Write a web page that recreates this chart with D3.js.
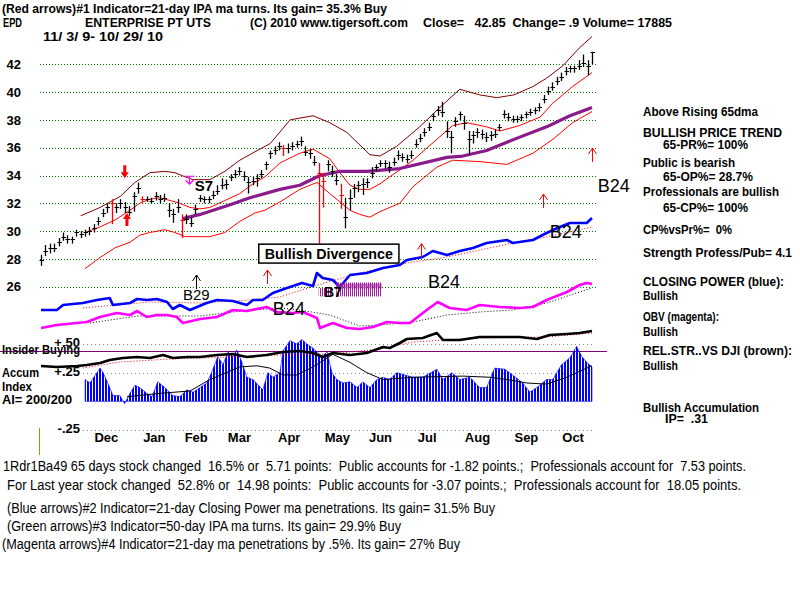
<!DOCTYPE html>
<html><head><meta charset="utf-8">
<script src="https://cdn.jsdelivr.net/npm/d3@7"></script>
<style>body{margin:0;background:#fff}svg{display:block}text{white-space:pre}</style>
</head><body>
<svg id="c" width="800" height="600"></svg>
<script>
// ---------------- DATA ----------------
const months = ["Dec","Jan","Feb","Mar","Apr","May","Jun","Jul","Aug","Sep","Oct"];
const monthIdx = [14.7,25.6,35.1,44.9,56.2,67.1,76.9,87.5,98.9,110,120.6];
const priceTicks = [26,28,30,32,34,36,38,40,42];
const aiTicks = [-0.25,0.25,0.5];
const aiTickLabels = ["-.25","+.25","+.50"];

const close = [27.9,28.6,28.8,28.8,29.2,29.6,29.4,29.4,29.9,29.8,
 29.9,30.0,30.2,30.7,31.3,31.7,32.0,31.7,32.0,31.7,
 31.4,32.5,33.1,32.3,32.3,32.2,32.5,32.3,32.4,31.5,
 31.2,31.7,30.8,30.9,30.6,31.6,32.4,32.3,32.3,32.6,
 32.9,33.3,33.4,33.9,34.1,34.3,34.0,33.5,33.6,33.8,
 34.1,34.8,35.6,35.8,36.1,36.0,36.0,36.1,36.3,36.5,
 35.7,35.6,35.0,34.2,33.6,34.8,34.3,33.7,32.6,31.0,
 32.4,33.1,33.3,33.4,33.5,34.2,34.6,34.9,34.9,34.6,
 35.0,35.5,35.3,35.2,35.5,36.3,36.7,37.1,37.5,38.3,
 38.7,38.6,37.2,36.8,37.9,38.4,37.8,36.6,36.9,37.1,
 37.0,36.8,36.9,37.0,37.5,38.4,38.2,38.1,38.1,38.2,
 38.4,38.6,38.7,38.9,39.5,40.1,40.4,40.8,41.1,41.5,
 41.7,41.7,41.9,42.1,41.9,42.85];
const high = [28.3,29.0,29.1,29.1,29.5,29.9,29.7,29.6,30.1,30.0,
 30.1,30.3,30.5,31.0,31.6,32.0,32.3,32.0,32.3,32.1,
 31.8,32.8,33.5,32.5,32.5,32.4,32.8,32.6,32.7,32.0,
 31.6,32.3,31.2,31.2,31.0,31.9,32.6,32.5,32.5,32.9,
 33.3,33.8,33.7,34.1,34.4,34.6,34.3,33.9,33.9,34.1,
 34.4,35.0,35.8,36.1,36.4,36.2,36.3,36.4,36.5,36.8,
 36.1,35.9,35.4,34.9,34.2,35.1,34.7,34.1,33.4,32.4,
 33.0,33.4,33.6,33.8,33.8,34.6,34.8,35.1,35.1,35.0,
 35.3,35.8,35.6,35.5,35.8,36.6,37.0,37.4,37.8,38.5,
 39.0,39.3,37.9,37.2,38.2,38.6,38.3,37.2,37.2,37.4,
 37.3,37.1,37.2,37.3,37.7,38.7,38.5,38.3,38.3,38.4,
 38.6,38.8,38.9,39.2,39.8,40.4,40.7,41.1,41.4,41.8,
 41.9,41.9,42.3,42.7,42.3,42.9];
const low = [27.5,28.2,28.4,28.5,28.9,29.3,29.1,29.1,29.6,29.5,
 29.6,29.7,29.9,30.4,31.0,31.3,30.5,31.3,31.6,31.3,
 31.1,31.4,32.7,32.1,32.1,32.0,32.2,32.0,32.1,31.0,
 30.6,31.3,29.5,30.5,30.3,31.2,32.1,32.0,32.0,32.3,
 32.6,33.0,33.0,33.6,33.8,34.0,33.6,32.7,33.3,33.2,
 33.8,34.4,35.2,35.5,35.8,35.4,35.6,35.8,36.0,36.1,
 35.4,35.2,34.7,29.1,31.7,34.3,33.9,33.3,31.6,30.2,
 31.5,32.4,32.8,32.6,33.1,33.8,34.3,34.6,34.5,34.2,
 34.7,35.1,35.0,34.9,35.2,36.0,36.4,36.8,37.2,37.9,
 38.3,38.2,36.7,35.6,37.5,38.0,37.3,35.5,36.3,36.7,
 36.6,36.4,36.5,36.7,37.2,38.1,37.9,37.8,37.8,37.9,
 38.1,38.3,38.4,38.6,39.2,39.8,40.1,40.5,40.8,41.2,
 41.4,41.4,41.6,41.8,41.2,42.0];
const redBars = [16,23,32,55,63,64,68];

const upperBand = [[9,31.1],[13.4,31.7],[18,32.5],[21.3,33.5],[24.7,34.2],[28.1,34.3],[30.4,34.2],[32.7,33.9],[34.5,33.7],[38.3,33.7],[41.7,34.3],[45.1,35.1],[48.5,35.7],[52,36.3],[56.5,38.0],[61.7,38.3],[65.5,37.8],[69.4,37.1],[74.6,35.5],[76.9,35.4],[80.7,36.1],[85.9,37.5],[90.5,38.9],[95,40.2],[99.5,39.8],[103.4,39.6],[107.3,39.8],[111.6,40.4],[114.7,41.0],[118.4,41.9],[122.2,43.2],[125,44.0]];
const midBand = [[10,29.9],[13.4,30.3],[16.8,30.8],[20.2,31.5],[22.4,32.0],[24.7,32.3],[27,32.4],[29.3,32.2],[31.5,32.0],[33.8,31.7],[36.1,31.6],[38.3,31.7],[41.7,32.2],[45.1,32.7],[48.5,33.5],[50.8,33.9],[54.2,34.9],[58.7,35.6],[61.7,35.9],[65.5,35.2],[67.8,34.2],[70.1,33.3],[72.3,33.0],[74.6,33.0],[76.9,33.4],[79.1,33.9],[81.4,34.4],[84.4,35.1],[89.8,36.6],[93.4,37.6],[96.6,37.8],[101.1,37.5],[104.1,37.2],[108.6,37.6],[113.2,38.2],[116.1,39.2],[120.6,40.4],[125,41.4]];
const lowerBand = [[10,27.3],[13.4,28.1],[16.8,28.8],[20.2,29.2],[22.4,29.7],[24.7,29.9],[28.1,30.1],[30.4,29.9],[32.7,29.6],[36.1,29.6],[38.3,29.6],[41.7,29.9],[45.1,30.7],[48.5,31.3],[50.8,31.5],[54.2,32.1],[58.7,33.0],[62.6,33.5],[65.5,32.7],[67.8,32.1],[70.1,31.5],[72.3,31.2],[74.6,31.0],[76.9,31.4],[79.1,31.7],[81.4,32.0],[84.4,33.2],[89.8,34.6],[93.4,35.1],[99.5,35.0],[105.7,34.8],[111.6,35.6],[116.1,36.6],[120.6,37.8],[125,38.6]];
const ma65 = [[32.2,30.9],[36.1,31.2],[42.9,31.9],[47.4,32.4],[54.2,33.0],[58.7,33.3],[63.3,34.0],[67.8,34.3],[73.9,34.3],[81.4,34.5],[92.1,35.3],[95.7,35.4],[101.1,35.8],[107.3,36.6],[114.7,37.5],[120,38.3],[125,38.9]];

const closingPower = [[0,20],[3.6,20],[5,25],[9.5,27],[12.7,30],[15.6,32],[16.3,25],[20.2,27],[21.8,31],[24,30],[26.3,31],[28.6,28],[29.9,21],[31.5,25],[33.8,20],[35.4,23],[37.6,27],[39.9,30],[43.5,29],[46.7,25],[48.1,30],[50.3,30],[52.6,37],[55.8,42],[59.2,47],[61.7,44],[62.6,57],[63.9,52],[66.2,50],[67.8,43],[70.1,55],[73.9,57],[77.6,62],[81.4,65],[83,70],[86.6,73],[88.9,79],[92.1,75],[95,79],[98,82],[101.1,87],[105.7,90],[107,87],[111.6,90],[114.7,97],[117.7,103],[120,107],[123.8,107],[125,112]];
const cpMA = [[9.5,22],[24.7,28],[36.1,27],[47.4,30],[54.2,33],[62,44],[72.3,57],[83,67],[92.1,73],[107,87],[114.7,93],[125,103]];
const obv = [[0,12],[3.6,15],[10.4,18],[13.4,23],[17.2,27],[20.2,25],[21.8,29],[24,23],[26.3,25],[28.6,25],[30.8,23],[32.2,17],[36.1,21],[39.9,23],[43.5,30],[46.7,29],[51.2,33],[53.5,28],[57.1,27],[59.4,28],[62.6,22],[63.3,12],[66.2,17],[69.4,12],[72.3,11],[75.3,13],[78.5,18],[81.4,17],[83.7,17],[87.5,30],[90,38],[92.7,32],[96.6,30],[99.5,35],[104.1,33],[108.6,32],[111.6,33],[114.7,40],[119.3,48],[122.2,55],[123.8,57],[125,56]];
const obvMA = [[11.1,17],[21.8,24],[36.1,24],[47.4,30],[54.2,32],[58.7,30],[65.5,25],[72.3,14],[76.9,15],[84.4,18],[92.1,25],[99.5,28],[107,30],[114.7,37],[122.2,48],[125,52]];
const relStr = [[0,14],[3.6,13],[8.2,14],[10.4,15],[13.4,17],[15.6,20],[18.6,22],[21.8,23],[24.7,22],[27.7,25],[29.9,22],[33.1,23],[36.1,23],[39.9,25],[43.5,26],[46.7,23],[51.2,25],[54.9,28],[58.7,29],[61.7,27],[63.9,23],[66.2,27],[70.1,25],[73.9,27],[77.6,33],[79.1,32],[81.4,37],[83,41],[86.6,42],[89.8,47],[91.2,40],[95,40],[99.5,43],[104.1,43],[108.6,43],[112.5,41],[115.4,45],[119.3,46],[122.2,47],[125,49]];
const relStrMA = [[9.5,12],[17.9,18],[29.3,21],[42.9,23],[54.2,25],[65.5,26],[76.9,31],[84.4,38],[99.5,42],[114.7,43],[125,47]];
const accum = [[10,.19],[11.1,.16],[12.7,.25],[13.4,.29],[14.1,.25],[15.6,.12],[16.3,.05],[17.9,.05],[19,-.02],[20.2,.07],[21.3,.14],[22.4,.12],[24,.07],[25.2,.04],[26.5,.17],[28.1,.12],[29.9,.05],[31.5,.04],[33.1,.10],[34.5,.08],[36.1,.12],[37.6,.16],[38.8,.26],[40.1,.39],[41.3,.32],[42.4,.43],[43.5,.39],[44.4,.45],[45.6,.34],[46.7,.21],[48.1,.19],[50.3,.10],[51.5,.25],[52.6,.21],[54.2,.25],[54.9,.44],[56.5,.53],[58,.50],[59.2,.54],[60.3,.50],[61.5,.47],[62.6,.43],[63.7,.39],[64.9,.43],[66,.25],[67.1,.19],[68.5,.16],[70.1,.17],[71.7,.12],[73,.17],[74.6,.12],[76.2,.19],[77.6,.21],[79.1,.19],[80.7,.25],[84.4,.21],[86.6,.21],[89.8,.28],[91.2,.19],[93.2,.25],[95,.19],[97.3,.21],[99.5,.12],[101.1,.12],[102.9,.29],[105.2,.28],[107,.23],[109.3,.16],[110.9,.08],[112.5,.12],[114.7,.19],[116.1,.19],[118.1,.32],[120,.38],[121.5,.48],[122.7,.39],[123.8,.34],[125,.30]];
const accumMA = [[19.5,.04],[27,.07],[33.8,.09],[38.3,.19],[45.1,.30],[49,.31],[51.9,.29],[54.9,.23],[58,.23],[61.7,.30],[66.2,.41],[70.1,.34],[73.9,.25],[77.6,.19],[84.4,.21],[95.7,.22],[101.8,.21],[105.7,.19],[110.2,.16],[114.7,.15],[119.3,.21],[123.8,.29],[125,.31]];
const insiderLevel = 0.44;

// signals
const bigArrowIdx = [19, 19.5];
const bigArrowPrice = [33.8, 31.3];
const bigArrowDir = ["down", "up"];
const thinArrowIdx = [35.1, 51.2, 86.2, 113.8, 125];
const thinArrowPrice = [26.84, 27.2, 29.1, 32.67, 35.98];
const thinArrowColor = ["#000000", "#ff0000", "#ff0000", "#ff0000", "#ff0000"];
const sellArrowIdx = 33.6, sellArrowPrice = 33.37;
const signalText = ["S7","B29","B24","B24","B24","B24","B7"];
const signalIdx = [34.9, 32.2, 87.8, 115.4, 126.3, 52.6, 64.2];
const signalPrice = [32.88, 25.05, 25.9, 29.5, 32.8, 23.96, 25.26];
const signalSize = [15, 15, 18, 18, 18, 18, 14];
const signalWeight = ["bold","normal","normal","normal","normal","normal","bold"];
const divergenceIdx = [49.4, 81.2], divergencePrice = [29.06, 27.7];
const b7Zone = [67, 77.3], b7Price = [26.3, 25.3];
const b7Zone2 = [63, 65.8], b7Price2 = [25.9, 25.3];

// ---------------- DRAWING ----------------
const SANS = "'Liberation Sans', Arial, Helvetica, sans-serif";
const NARROW = "'Liberation Sans Narrow', 'Arial Narrow', 'Liberation Sans', sans-serif";
const svg = d3.select("#c");
svg.append("rect").attr("width",800).attr("height",600).attr("fill","#fff");

const defs = svg.append("defs");
const pat = defs.append("pattern").attr("id","acc").attr("patternUnits","userSpaceOnUse").attr("width",3).attr("height",10);
pat.append("rect").attr("x",0).attr("y",0).attr("width",2).attr("height",10).attr("fill","#0000ff");
const hat = defs.append("pattern").attr("id","hat").attr("patternUnits","userSpaceOnUse").attr("width",2).attr("height",10);
hat.append("rect").attr("x",0).attr("y",0).attr("width",1).attr("height",10).attr("fill","#a020a0");

const x = d3.scaleLinear().domain([0,125]).range([41,592]);
const y = d3.scaleLinear().domain([26,42]).range([286.7,64.3]);
const cpY = d3.scaleLinear().domain([0,100]).range([330,230]);
const obvY = d3.scaleLinear().domain([0,100]).range([340,240]);
const rsY = d3.scaleLinear().domain([0,100]).range([380,280]);
const aiY = d3.scaleLinear().domain([-0.25,0.5]).range([430,344]);

function label(px, py, s, o = {}) {
  const t = svg.append("text").attr("x",px).attr("y",py).text(s)
    .attr("font-family", o.family || SANS)
    .attr("font-size", o.size || 13)
    .attr("font-weight", o.weight || "bold")
    .attr("fill", o.fill || "#000")
    .attr("text-anchor", o.anchor || "start");
  if (o.len) t.attr("textLength", o.len).attr("lengthAdjust","spacingAndGlyphs");
  return t;
}
function drawLine(pts, sc, color, w, dash) {
  svg.append("path").datum(pts)
    .attr("d", d3.line().x(d => x(d[0])).y(d => sc(d[1])))
    .attr("fill","none").attr("stroke",color).attr("stroke-width",w)
    .attr("stroke-linejoin","round")
    .attr("stroke-dasharray", dash || null);
}

// price grid
svg.append("g").selectAll("line").data(priceTicks).join("line")
  .attr("x1",40).attr("x2",598).attr("y1",d=>Math.round(y(d))+0.5).attr("y2",d=>Math.round(y(d))+0.5)
  .attr("stroke","#008000").attr("stroke-width",1).attr("stroke-dasharray","1,2");
// price axis
const pa = svg.append("g").attr("transform","translate(22,0)")
  .call(d3.axisLeft(y).tickValues(priceTicks).tickSize(0).tickPadding(1).tickFormat(d3.format("d")));
pa.select(".domain").remove();
pa.selectAll("text").attr("font-family",SANS).attr("font-size",13).attr("font-weight","bold").attr("fill","#000");

// bands
drawLine(upperBand, y, "#800000", 1);
drawLine(midBand, y, "#ff0000", 1);
drawLine(lowerBand, y, "#ff0000", 1);
drawLine(ma65, y, "#8b1a8b", 3.2);

// price bars
const bars = svg.append("g");
close.forEach((c,i) => {
  const col = redBars.includes(i) ? "#ff0000" : "#000";
  const px = Math.round(x(i)) + 0.5;
  bars.append("line").attr("x1",px).attr("x2",px).attr("y1",y(high[i])).attr("y2",y(low[i]))
    .attr("stroke",col).attr("stroke-width",1.3);
  bars.append("line").attr("x1",px-2).attr("x2",px+2.5).attr("y1",Math.round(y(c))+0.5).attr("y2",Math.round(y(c))+0.5)
    .attr("stroke",col).attr("stroke-width",1);
});

// indicator panel grid
svg.append("g").selectAll("line").data(aiTicks).join("line")
  .attr("x1",83).attr("x2",595).attr("y1",d=>Math.round(aiY(d))+0.5).attr("y2",d=>Math.round(aiY(d))+0.5)
  .attr("stroke","#888").attr("stroke-width",1).attr("stroke-dasharray","1,3");
const aa = svg.append("g").attr("transform","translate(81,0)")
  .call(d3.axisLeft(aiY).tickValues(aiTicks).tickSize(0).tickPadding(1).tickFormat((d,i)=>aiTickLabels[i]));
aa.select(".domain").remove();
aa.selectAll("text").attr("font-family",SANS).attr("font-size",13).attr("font-weight","bold").attr("fill","#000").attr("dy","0.2em");

// insider line
svg.append("line").attr("x1",0).attr("x2",607).attr("y1",Math.round(aiY(insiderLevel))+0.5).attr("y2",Math.round(aiY(insiderLevel))+0.5)
  .attr("stroke","#800080").attr("stroke-width",1);

// accumulation histogram
svg.append("path").datum(accum)
  .attr("d", d3.area().x(d=>x(d[0])).y0(aiY(0)).y1(d=>aiY(d[1])))
  .attr("fill","url(#acc)").attr("stroke","#0000ff").attr("stroke-width",0.6);
drawLine(accumMA, aiY, "#000", 1);

// indicator lines
drawLine(relStrMA, rsY, "#ff0000", 1, "1,2");
drawLine(relStr, rsY, "#000", 2.6);
drawLine(obvMA, obvY, "#000", 1, "1,2");
drawLine(obv, obvY, "#ff00ff", 2.6);
drawLine(cpMA, cpY, "#ff0000", 1, "1,2");
drawLine(closingPower, cpY, "#0000ff", 2.6);

// B7 hatch
svg.append("rect").attr("x",x(b7Zone[0])).attr("width",x(b7Zone[1])-x(b7Zone[0]))
  .attr("y",y(b7Price[0])).attr("height",y(b7Price[1])-y(b7Price[0])).attr("fill","url(#hat)");
svg.append("rect").attr("x",x(b7Zone[0])).attr("width",x(b7Zone[1])-x(b7Zone[0]))
  .attr("y",y(b7Price[0])+1).attr("height",5).attr("fill","#a020a0").attr("opacity",0.55);
svg.append("rect").attr("x",x(b7Zone2[0])).attr("width",x(b7Zone2[1])-x(b7Zone2[0]))
  .attr("y",y(b7Price2[0])).attr("height",y(b7Price2[1])-y(b7Price2[0])).attr("fill","url(#hat)");

// big red arrows
bigArrowIdx.forEach((d,i) => {
  const px = x(d), py = y(bigArrowPrice[i]);
  const s = bigArrowDir[i] === "down" ? -1 : 1;
  svg.append("path").attr("d",
    `M${px},${py} L${px-4},${py+6*s} L${px-1.5},${py+6*s} L${px-1.5},${py+13*s} L${px+1.5},${py+13*s} L${px+1.5},${py+6*s} L${px+4},${py+6*s} Z`)
    .attr("fill","#ff0000");
});
// thin arrows
thinArrowIdx.forEach((d,i) => {
  const px = Math.round(x(d))+0.5, py = y(thinArrowPrice[i]);
  svg.append("path").attr("d",`M${px},${py} L${px},${py+14} M${px-4},${py+6} L${px},${py} L${px+4},${py+6}`)
    .attr("fill","none").attr("stroke",thinArrowColor[i]).attr("stroke-width",1);
});
// magenta sell arrow
{
  const px = Math.round(x(sellArrowIdx))+0.5, py = y(sellArrowPrice);
  svg.append("path").attr("d",`M${px},${py} L${px},${py-8} M${px-4},${py-4} L${px},${py} L${px+4},${py-4} M${px-5},${py-8} L${px+5},${py-8}`)
    .attr("fill","none").attr("stroke","#ff00ff").attr("stroke-width",1.2);
}
// signal texts
signalText.forEach((s,i) => {
  label(x(signalIdx[i]), y(signalPrice[i]), s, {size: signalSize[i], weight: signalWeight[i]});
});
// bullish divergence box
{
  const x0 = x(divergenceIdx[0]), x1 = x(divergenceIdx[1]);
  const y0 = y(divergencePrice[0]), y1 = y(divergencePrice[1]);
  svg.append("rect").attr("x",x0).attr("y",y0).attr("width",x1-x0).attr("height",y1-y0)
    .attr("fill","#fff").attr("stroke","#000").attr("stroke-width",1.5);
  label((x0+x1)/2, y1-4.5, "Bullish Divergence", {size:15, anchor:"middle", len:128});
}

// month axis
const ma = svg.append("g").attr("transform","translate(0,433)")
  .call(d3.axisBottom(x).tickValues(monthIdx).tickSize(0).tickPadding(0).tickFormat((d,i)=>months[i]));
ma.select(".domain").remove();
ma.selectAll("text").attr("font-family",SANS).attr("font-size",13).attr("font-weight","bold").attr("fill","#000");

// small olive marker
svg.append("line").attr("x1",39.5).attr("x2",39.5).attr("y1",428).attr("y2",455).attr("stroke","#999900").attr("stroke-width",1);

// header texts
label(2, 13, "(Red arrows)#1 Indicator=21-day IPA ma turns. Its gain= 35.3% Buy", {len:385});
label(3, 27, "EPD", {len:19});
label(85, 27, "ENTERPRISE PT UTS", {len:126});
label(250, 27, "(C) 2010 www.tigersoft.com", {len:158});
label(423, 27, "Close=   42.85  Change= .9 Volume= 17885", {len:249});
label(43, 41, "11/ 3/ 9- 10/ 29/ 10", {len:120});

// left panel labels
label(2, 354, "Insider Buying", {len:78});
label(2, 377, "Accum", {len:37});
label(2, 391, "Index", {len:30});
label(2, 404, "AI= 200/200", {len:70});

// right side texts
const side = [
  [643,116,"Above Rising 65dma",115],
  [643,137,"BULLISH PRICE TREND",139],
  [663,149,"65-PR%= 100%",85],
  [643,167,"Public is bearish",92],
  [663,181,"65-OP%= 28.7%",90],
  [643,196,"Professionals are bullish",136],
  [663,212,"65-CP%= 100%",85],
  [643,234,"CP%vsPr%=  0%",89],
  [643,257,"Strength Profess/Pub= 4.1",149],
  [643,286,"CLOSING POWER (blue):",141],
  [643,300,"Bullish",35],
  [643,321,"OBV (magenta):",76],
  [643,336,"Bullish",35],
  [643,355,"REL.STR..VS DJI (brown):",149],
  [643,370,"Bullish",35],
  [643,412,"Bullish Accumulation",116],
  [665,423,"IP=  .31",43]
];
side.forEach(d => label(d[0], d[1], d[2], {size:12, len:d[3]}));

// bottom texts
const bottom = [
  [3,471,"1Rdr1Ba49 65 days stock changed  16.5% or  5.71 points:  Public accounts for -1.82 points.;  Professionals account for  7.53 points.",743],
  [7,490,"For Last year stock changed  52.8% or  14.98 points:  Public accounts for -3.07 points.;  Professionals account for  18.05 points.",734],
  [7,513,"(Blue arrows)#2 Indicator=21-day Closing Power ma penetrations. Its gain= 31.5% Buy",488],
  [7,531,"(Green arrows)#3 Indicator=50-day IPA ma turns. Its gain= 29.9% Buy",394],
  [2,549,"(Magenta arrows)#4 Indicator=21-day ma penetrations by .5%. Its gain= 27% Buy",458]
];
bottom.forEach(d => label(d[0], d[1], d[2], {family:NARROW, size:14, weight:"normal", len:d[3]}));
</script>
</body></html>
